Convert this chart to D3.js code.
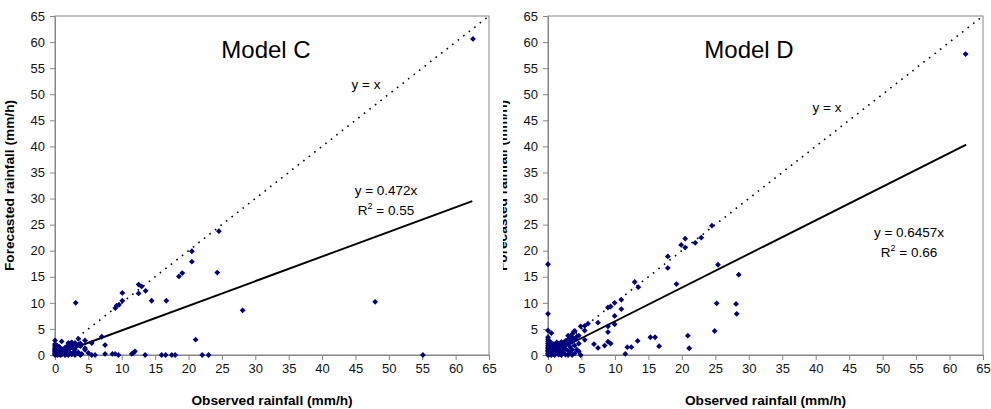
<!DOCTYPE html>
<html>
<head>
<meta charset="utf-8">
<script src="https://cdn.jsdelivr.net/npm/d3@7"></script>
<style>
  html, body { margin: 0; padding: 0; background: #fff; }
  svg { display: block; font-family: "Liberation Sans", Arial, sans-serif; }
</style>
</head>
<body>
<svg id="chart" width="991" height="409"></svg>
<script>
// Axis ticks shared by both panels (mm/h)
const tickValues = [0, 5, 10, 15, 20, 25, 30, 35, 40, 45, 50, 55, 60, 65];

// Model C: observed vs forecasted rainfall (mm/h)
const modelCObserved = [
  62.6, 24.55, 20.5, 20.5, 18.56, 19.06, 24.3, 16.67, 14.47, 13.57, 12.97, 12.52, 12.52,
  10.08, 10.08, 9.58, 9.23, 9.03, 3.1, 47.95, 28.1, 21.06, 55.1, 23.0, 22.05, 18.0, 17.5,
  16.57, 15.97, 13.5, 11.98, 11.73, 11.5,
  0, 0, 0, 0, 0, 0, 0, 0, 0, 0, 0,
  0.2, 0.2, 0.2, 0.2, 0.2,
  0.4, 0.4, 0.4, 0.4, 0.4,
  0.6, 0.6, 0.6, 0.6,
  0.8, 0.8, 0.8,
  1.0, 1.0, 1.0,
  1.2, 1.2,
  1.5, 1.5, 1.5,
  1.8, 1.8, 1.8,
  2.0, 2.0, 2.0,
  2.3, 2.3, 2.3,
  2.5, 2.5, 2.5,
  2.8, 2.8,
  3.0, 3.0, 3.0,
  3.3, 3.3,
  3.5, 3.5, 3.5,
  3.8, 3.8, 3.8,
  4.0,
  4.5, 4.5, 4.5,
  5.0, 5.5, 5.5, 6.0, 7.0, 7.5, 7.5, 8.6, 9.0, 9.5
];
const modelCForecast = [
  60.6, 23.75, 19.9, 17.9, 15.07, 15.7, 15.8, 10.4, 10.4, 12.3, 13.15, 13.5, 11.8,
  11.9, 10.4, 9.64, 9.45, 9.0, 10.0, 10.2, 8.56, 2.94, 0, 0, 0, 0, 0,
  0, 0, 0, 0.7, 0.4, 0.2,
  0, 0.2, 0.4, 0.6, 0.8, 1.0, 1.2, 1.5, 1.8, 2.1, 2.8,
  0.1, 0.5, 0.9, 1.4, 1.9,
  0, 0.3, 0.7, 1.2, 1.7,
  0.2, 0.6, 1.0, 1.6,
  0, 0.4, 1.3,
  0.1, 0.8, 2.6,
  0.3, 1.1,
  0, 0.5, 1.4,
  0.2, 0.9, 1.7,
  0, 1.2, 2.3,
  0.4, 1.8, 2.2,
  0.1, 1.5, 2.4,
  0.6, 2.0,
  0, 2.3, 1.1,
  0.3, 1.9,
  3.1, 2.0, 0.5,
  0, 1.7, 2.2,
  0.2,
  2.8, 1.3, 1.0,
  0.4, 2.3, 0, 0, 3.5, 1.9, 0.2, 0.2, 0.2, 0
];

// Model D: observed vs forecasted rainfall (mm/h)
const modelDObserved = [
  62.4, 24.5, 22.9, 22.0, 20.5, 19.9, 20.5, 17.9, 17.9, 19.2, 25.4, 28.5, 12.95, 13.5,
  10.96, 10.96, 9.96, 9.36, 8.96, 9.96, 9.96, 8.96, 8.96, 8.96, 9.36, 8.47, 7.47, 7.47,
  6.87, 5.98, 5.48, 4.88, 5.48, 4.88, 3.88, 28.1, 28.2, 25.2, 24.9, 20.9, 21.1, 16.6,
  16.0, 15.3, 13.4, 12.45, 11.85, 11.55, 5.5,
  0, 0, 0, 0, 0, 0, 0, 0, 0, 0, 0, 0, 0, 0,
  0.3, 0.3, 0.3, 0.3, 0.3, 0.3,
  0.5, 0.5, 0.5, 0.5, 0.5, 0.5, 0.5,
  0.8, 0.8, 0.8, 0.8, 0.8,
  1.0, 1.0, 1.0, 1.0, 1.0,
  1.3, 1.3, 1.3, 1.3, 1.3,
  1.6, 1.6, 1.6, 1.6, 1.6,
  2.0, 2.0, 2.0, 2.0, 2.0, 2.0,
  2.3, 2.3, 2.3, 2.3,
  2.6, 2.6, 2.6, 2.6,
  3.0, 3.0, 3.0, 3.0, 3.0,
  3.3, 3.3, 3.3,
  3.6, 3.6, 3.6, 3.6, 3.6,
  4.0, 4.0, 4.0, 4.0,
  4.3, 4.3,
  4.6, 4.6, 4.6
];
const modelDForecast = [
  57.7, 24.8, 22.5, 21.5, 22.3, 21.1, 20.6, 18.9, 16.7, 13.6, 17.3, 15.4, 14.0, 13.0,
  10.6, 8.8, 10.0, 9.3, 9.1, 7.5, 5.9, 5.5, 4.4, 2.55, 2.2, 1.8, 6.2, 1.35,
  2.1, 6.0, 5.6, 5.5, 4.7, 0, 4.5, 9.8, 7.9, 9.9, 4.6, 3.7, 1.3, 1.7,
  3.4, 3.4, 2.7, 1.5, 1.5, 0.2, 2.9,
  0, 0.3, 0.6, 0.9, 1.2, 1.5, 1.8, 2.2, 2.6, 3.0, 3.4, 4.7, 7.9, 17.4,
  0.1, 0.5, 1.0, 1.5, 2.0, 2.5,
  0, 0.4, 0.8, 1.3, 1.8, 2.3, 4.2,
  0.2, 0.7, 1.2, 1.7, 2.1,
  0, 0.5, 1.0, 1.5, 2.0,
  0.3, 0.8, 1.3, 1.9, 2.4,
  0.1, 0.6, 1.1, 1.6, 2.2,
  0, 0.5, 1.0, 1.5, 2.0, 2.5,
  0.3, 0.9, 1.4, 2.3,
  0.1, 1.2, 1.8, 2.7,
  0, 0.8, 2.2, 3.0, 3.7,
  0.4, 1.6, 2.9,
  0, 1.0, 2.5, 3.4, 4.0,
  0.3, 1.8, 3.0, 4.6,
  1.0, 3.5,
  0.7, 2.2, 3.7
];

// Regression slopes (fit through origin) and R² values shown in the labels
const modelNames = ["Model C", "Model D"];
const fitSlopes = [0.472, 0.6457];
const fitR2 = ["0.55", "0.66"];
const fitMaxX = [62.5, 62.5];

const svg = d3.select("#chart");
const axisGray = "#868686";
const pointColor = "#00007f";

const panels = [
  {
    left: 55, right: 489, top: 16, bottom: 355,
    obs: modelCObserved, fc: modelCForecast,
    titleX: 266, yxLabel: [366, 89], eqX: 386, eqY: 195,
    clipLeft: null
  },
  {
    left: 548, right: 983, top: 16, bottom: 355,
    obs: modelDObserved, fc: modelDForecast,
    titleX: 749, yxLabel: [827, 112], eqX: 909, eqY: 237,
    clipLeft: 503
  }
];

svg.append("rect").attr("width", 991).attr("height", 409).attr("fill", "#fff");

const defs = svg.append("defs");

panels.forEach((p, i) => {
  const g = svg.append("g");
  const x = d3.scaleLinear().domain([0, 65]).range([p.left, p.right]);
  const y = d3.scaleLinear().domain([0, 65]).range([p.bottom, p.top]);

  // Plot frame
  g.append("rect")
    .attr("x", p.left).attr("y", p.top)
    .attr("width", p.right - p.left).attr("height", p.bottom - p.top)
    .attr("fill", "none").attr("stroke", axisGray).attr("stroke-width", 1);

  // Axes
  const xAxis = d3.axisBottom(x).tickValues(tickValues).tickSize(5).tickSizeOuter(0).tickPadding(4);
  const yAxis = d3.axisLeft(y).tickValues(tickValues).tickSize(5).tickSizeOuter(0).tickPadding(5);

  const gx = g.append("g").attr("transform", `translate(0,${p.bottom})`).call(xAxis);
  const gy = g.append("g").attr("transform", `translate(${p.left},0)`).call(yAxis);
  [gx, gy].forEach(a => {
    a.select(".domain").attr("stroke", axisGray);
    a.selectAll(".tick line").attr("stroke", axisGray);
    a.selectAll(".tick text")
      .attr("fill", "#111")
      .style("font-family", '"Liberation Sans", Arial, sans-serif')
      .style("font-size", "13px");
  });

  // 1:1 reference line
  g.append("line")
    .attr("x1", x(0)).attr("y1", y(0)).attr("x2", x(65)).attr("y2", y(65))
    .attr("stroke", "#000").attr("stroke-width", 1.6)
    .attr("stroke-dasharray", "1.6,5.4");

  // Regression line
  const slope = fitSlopes[i];
  g.append("line")
    .attr("x1", x(0)).attr("y1", y(0))
    .attr("x2", x(fitMaxX[i])).attr("y2", y(slope * fitMaxX[i]))
    .attr("stroke", "#000").attr("stroke-width", 1.9);

  // Observations
  const pts = p.obs.map((v, k) => [v, p.fc[k]]);
  const sym = d3.symbol().type(d3.symbolSquare).size(17);
  g.append("g").selectAll("path").data(pts).join("path")
    .attr("d", sym)
    .attr("transform", d => `translate(${x(d[0])},${y(d[1])}) rotate(45)`)
    .attr("fill", pointColor);

  // Title
  g.append("text")
    .attr("x", p.titleX).attr("y", 58)
    .attr("text-anchor", "middle")
    .style("font-size", "24px")
    .attr("fill", "#000")
    .text(modelNames[i]);

  // Annotations
  g.append("text")
    .attr("x", p.yxLabel[0]).attr("y", p.yxLabel[1])
    .attr("text-anchor", "middle")
    .style("font-size", "13.5px")
    .text("y = x");

  g.append("text")
    .attr("x", p.eqX).attr("y", p.eqY)
    .attr("text-anchor", "middle")
    .style("font-size", "13.5px")
    .text(`y = ${slope}x`);

  const r2 = g.append("text")
    .attr("x", p.eqX).attr("y", p.eqY + 20)
    .attr("text-anchor", "middle")
    .style("font-size", "13.5px");
  r2.append("tspan").text("R");
  r2.append("tspan").attr("dy", -6).style("font-size", "9px").text("2");
  r2.append("tspan").attr("dy", 6).text(` = ${fitR2[i]}`);

  // Axis titles
  g.append("text")
    .attr("x", (p.left + p.right) / 2).attr("y", 405)
    .attr("text-anchor", "middle")
    .style("font-size", "13.7px").style("font-weight", "bold")
    .text("Observed rainfall (mm/h)");

  // Y title sits in its own group so a clip can be applied in page coordinates
  const yTitleGroup = g.append("g");
  yTitleGroup.append("text")
    .attr("transform", `translate(${p.left - 41},${(p.top + p.bottom) / 2}) rotate(-90)`)
    .attr("text-anchor", "middle")
    .style("font-size", "13.7px").style("font-weight", "bold")
    .text("Forecasted rainfall (mm/h)");

  if (p.clipLeft !== null) {
    const id = "clip-" + i;
    defs.append("clipPath").attr("id", id)
      .append("rect").attr("x", p.clipLeft).attr("y", 0)
      .attr("width", 991 - p.clipLeft).attr("height", 409);
    yTitleGroup.attr("clip-path", `url(#${id})`);
  }
});
</script>
</body>
</html>
